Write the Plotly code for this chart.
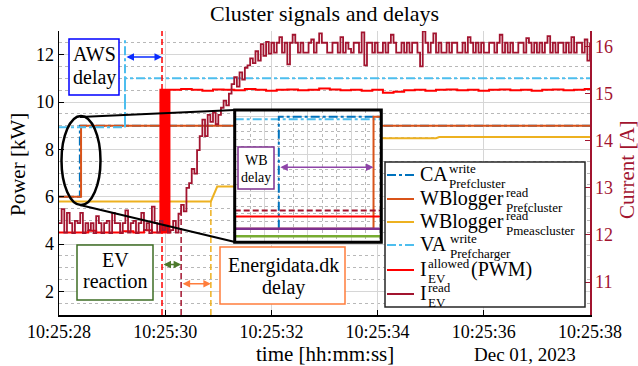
import plotly.graph_objects as go
import pandas as pd

FONT = "Liberation Serif"
BASE = pd.Timestamp("2023-12-01 10:25:28")

# ---------------- tick values ----------------
x_ticks_s = [0, 2, 4, 6, 8, 10]          # seconds after 10:25:28
power_range = [1, 13]
current_range = [10.30, 16.33]

# ---------------- main series (t in seconds after 10:25:28) ----------------
ca_t = [0.0, 0.3933, 0.3933, 10.0]
ca_kw = [6.0, 6.0, 9.0, 9.0]

wb_pref_t = [0.0, 0.4152, 0.4152, 10.0]
wb_pref_kw = [6.0, 6.0, 9.0, 9.0]

wb_pmeas_t = [0.0, 2.86, 2.98, 4.50, 4.50, 7.10, 7.16, 10.0]
wb_pmeas_kw = [5.80, 5.80, 6.43, 6.43, 8.47, 8.47, 8.52, 8.52]

va_t = [0.0, 1.243, 1.243, 10.0]
va_kw = [8.93, 8.93, 11.0, 11.0]

# event marker lines
aws_mark_t = [1.243, 1.243]
aws_mark_kw = [8.93, 12.7]
pwm_mark_t = [1.94, 1.94]
pwm_mark_kw = [1.0, 13.0]
ev_mark_t = [2.30, 2.30]
ev_mark_kw = [1.0, 5.6]
ed_mark_t = [2.86, 2.86]
ed_mark_kw = [1.0, 5.8]

# I_EV allowed (PWM) [A]
i_allowed_t = [0.00, 0.55, 0.70, 1.20, 1.40, 1.60, 1.75,
               1.91, 1.92, 1.93, 1.94, 1.95, 1.96, 1.97, 1.98, 1.99,
               2.01, 2.02, 2.03, 2.04, 2.05, 2.06, 2.07, 2.08, 2.09,
               2.3, 2.5, 2.7, 2.9, 3.1, 3.3, 3.5, 3.7, 3.9, 4.1,
               4.3, 4.5, 4.7, 4.9, 5.1, 5.3, 5.5, 5.7, 5.9, 6.1,
               6.3, 6.5, 6.7, 6.9, 7.1, 7.3, 7.5, 7.7, 7.9, 8.1,
               8.3, 8.5, 8.7, 8.9, 9.1, 9.3, 9.5, 9.7, 9.9, 10.0]
i_allowed_a = [12.05, 12.09, 12.05, 12.08, 12.05, 12.10, 12.05,
               15.08, 12.05, 15.08, 12.05, 15.08, 12.05, 15.08, 12.05, 15.08,
               12.05, 15.08, 12.05, 15.08, 12.05, 15.08, 12.05, 15.08, 15.08,
               15.10, 15.08, 15.06, 15.09, 15.08, 15.07, 15.10, 15.08, 15.06, 15.08,
               15.09, 15.07, 15.08, 15.11, 15.09, 15.07, 15.08, 15.06, 15.08, 15.02,
               15.04, 15.07, 15.08, 15.06, 15.08, 15.09, 15.07, 15.08, 15.06, 15.08,
               15.09, 15.07, 15.08, 15.06, 15.08, 15.09, 15.07, 15.08, 15.10, 15.12]

# I_EV read [A], sampled every 0.05 s from 10:25:28
i_read_dt = 0.05
i_read_a = [
    # 0.00 - 2.05 s
    12.25, 12.55, 12.05, 12.47, 12.25, 12.04, 12.30, 12.25, 12.47, 12.04,
    12.25, 12.10, 12.25, 12.04, 12.40, 12.25, 12.04, 12.25, 12.30, 12.04,
    12.47, 12.25, 12.25, 12.04, 12.25, 12.52, 12.05, 12.25, 12.30, 12.04,
    12.25, 12.47, 12.10, 12.25, 12.04, 12.60, 12.25, 12.05, 12.30, 12.10,
    12.20, 12.05,
    # 2.10 - 3.95 s
    12.10, 12.30, 12.05, 12.45, 12.64, 12.50, 13.00, 13.10, 13.40, 13.30,
    13.80, 14.10, 14.45, 14.10, 14.55, 14.40, 14.60, 14.35, 14.55, 14.70,
    14.85, 14.75, 15.00, 15.20, 15.35, 15.15, 15.45, 15.30, 15.55, 15.60,
    15.75, 15.65, 15.90, 15.70, 16.05, 15.80, 16.10, 15.85,
    # 4.00 - 10.00 s
    16.08, 15.87, 16.08, 16.20, 15.87, 16.08, 15.62, 16.08, 16.25, 16.08,
    15.87, 16.08, 15.87, 15.87, 16.08, 16.15, 15.87, 16.08, 16.28, 16.08,
    16.08, 15.87, 15.87, 16.08, 16.08, 15.87, 16.20, 15.87, 16.08, 15.95,
    15.87, 16.08, 16.08, 15.87, 16.30, 15.60, 16.08, 16.08, 15.87, 16.08,
    15.87, 15.87, 16.08, 15.87, 16.08, 16.25, 16.08, 15.87, 15.87, 16.08,
    15.87, 16.08, 15.87, 16.08, 16.08, 15.87, 15.58, 16.32, 16.08, 15.87,
    16.08, 16.28, 15.87, 16.08, 15.87, 15.87, 16.08, 15.87, 16.08, 16.08,
    15.87, 15.87, 16.08, 15.87, 16.20, 16.08, 15.87, 16.08, 15.87, 16.08,
    15.87, 15.87, 16.08, 16.08, 15.87, 16.08, 16.25, 15.87, 16.08, 15.87,
    16.08, 15.87, 15.87, 16.08, 16.08, 15.87, 16.18, 16.08, 15.87, 16.08,
    15.87, 16.08, 15.87, 16.08, 16.22, 15.87, 16.08, 15.87, 16.08, 16.08,
    15.87, 16.08, 15.87, 16.20, 15.87, 16.08, 16.08, 15.87, 16.15, 15.70,
    16.08,
]

# ---------------- inset (zoom of ellipse) ----------------
inset_x_range = [0.3831, 0.4170]
inset_y_range = [5.64, 9.18]
inset_va_t = [0.3831, 0.4170]
inset_va_kw = [8.93, 8.93]
inset_ca_t = [0.3933, 0.3933, 0.4170]
inset_ca_kw = [6.0, 9.0, 9.0]
inset_wb_t = [0.3831, 0.4152, 0.4152, 0.4170]
inset_wb_kw = [6.0, 6.0, 9.0, 9.0]
inset_read_t = [0.3831, 0.4170]
inset_read_kw = [6.49, 6.49]
inset_allowed_t = [0.3831, 0.4170]
inset_allowed_kw = [6.33, 6.33]
inset_purple_t = [0.3831, 0.4170]
inset_purple_kw = [6.0, 6.0]
inset_green_t = [0.3831, 0.4170]
inset_green_kw = [5.80, 5.80]

# delay arrows (time span, level)
aws_arrow = ([1.243, 1.94], 11.9)
ev_arrow = ([1.94, 2.30], 3.13)
ed_arrow = ([2.30, 2.86], 2.32)
wb_arrow = ([0.3933, 0.4152], 7.65)

# legend texts
legend_main = ["CA", "WBlogger", "WBlogger", "VA", "I", "I"]
legend_sup = ["write", "read", "read", "write", "allowed", "read"]
legend_sub = ["Prefcluster", "Prefcluster", "Pmeascluster", "Prefcharger", "EV", "EV"]
legend_tail = ["", "", "", "", "(PWM)", ""]

# ---------------- styles ----------------
C_BLUE = "#0072BD"
C_ORANGE = "#D95319"
C_YELLOW = "#EDB120"
C_LBLUE = "#4DBEEE"
C_RED = "#FF0000"
C_CRIMSON = "#A2142F"
C_PURPLE = "#7E2F8E"
C_GREEN = "#77AC30"
DASHDOT = "9px,3px,3px,3px"
DASH = "6px,3px"


def ts(secs):
    return [BASE + pd.Timedelta(seconds=s) for s in secs]


PL, PR, PT, PB = 59, 590, 31, 315


def px(x):
    return (x - PL) / (PR - PL)


def py(y):
    return (PB - y) / (PB - PT)


fig = go.Figure()


def add(x, y, color, width=2, dash=None, yaxis="y", xaxis="x", shape="linear"):
    fig.add_trace(go.Scatter(x=x, y=y, mode="lines", xaxis=xaxis, yaxis=yaxis,
                             line=dict(color=color, width=width, dash=dash, shape=shape),
                             showlegend=False, hoverinfo="skip"))


# main left-axis traces
add(ts(ca_t), ca_kw, C_BLUE, 2, DASHDOT)
add(ts(wb_pref_t), wb_pref_kw, C_ORANGE, 2)
add(ts(wb_pmeas_t), wb_pmeas_kw, C_YELLOW, 2)
add(ts(va_t), va_kw, C_LBLUE, 2, DASHDOT)
add(ts(aws_mark_t), aws_mark_kw, C_LBLUE, 2, DASHDOT)
add(ts(pwm_mark_t), pwm_mark_kw, C_RED, 1.5, DASH)
add(ts(ev_mark_t), ev_mark_kw, C_CRIMSON, 1.5, DASH)
add(ts(ed_mark_t), ed_mark_kw, C_YELLOW, 1.5, DASH)
# right-axis traces
add(ts(i_allowed_t), i_allowed_a, C_RED, 2, None, "y2", shape="hv")
i_read_t = [k * i_read_dt for k in range(len(i_read_a))]
add(ts(i_read_t), i_read_a, C_CRIMSON, 1.8, None, "y2", shape="hv")
# inset traces
add(inset_va_t, inset_va_kw, C_LBLUE, 2, DASHDOT, "y3", "x3")
add(inset_ca_t, inset_ca_kw, C_BLUE, 2, DASHDOT, "y3", "x3")
add(inset_wb_t, inset_wb_kw, C_ORANGE, 2, None, "y3", "x3")
add(inset_read_t, inset_read_kw, C_CRIMSON, 2, DASH, "y3", "x3")
add(inset_allowed_t, inset_allowed_kw, C_RED, 2, None, "y3", "x3")
add(inset_purple_t, inset_purple_kw, C_PURPLE, 2.5, None, "y3", "x3")
add(inset_green_t, inset_green_kw, C_GREEN, 2.5, None, "y3", "x3")

GRID = "#D6D6D6"
MINOR = "#B8B8B8"

shapes = []
annotations = []

# inset white background (drawn inside the inset subplot, above main traces)
shapes.append(dict(type="rect", xref="x3", yref="y3", layer="below",
                   x0=inset_x_range[0], x1=inset_x_range[1],
                   y0=inset_y_range[0], y1=inset_y_range[1],
                   fillcolor="white", line=dict(width=0)))


def box(x0, y0, x1, y1, color, width=1.5):
    shapes.append(dict(type="rect", xref="paper", yref="paper", layer="above",
                       x0=px(x0), x1=px(x1), y0=py(y1), y1=py(y0),
                       fillcolor="white", line=dict(color=color, width=width)))


def text(x, y, s, size, color="black", anchor="center", angle=0):
    annotations.append(dict(x=px(x), y=py(y), xref="paper", yref="paper", text=s,
                            showarrow=False, xanchor=anchor, yanchor="middle",
                            textangle=angle, borderpad=0,
                            font=dict(family=FONT, size=size, color=color)))


# legend
box(385, 162, 585, 307, "#262626", 1.5)
leg_y = [175, 199, 222, 245, 270, 294]
leg_colors = [C_BLUE, C_ORANGE, C_YELLOW, C_LBLUE, C_RED, C_CRIMSON]
leg_dash = [DASHDOT, None, None, DASHDOT, None, None]
leg_script_x = [448, 505, 505, 449, 427, 427]
for i, yy in enumerate(leg_y):
    shapes.append(dict(type="line", xref="paper", yref="paper", layer="above",
                       x0=px(387), x1=px(414), y0=py(yy), y1=py(yy),
                       line=dict(color=leg_colors[i], width=2, dash=leg_dash[i])))
    text(419, yy - 1, legend_main[i], 20, anchor="left")
    text(leg_script_x[i], yy - 7, legend_sup[i], 13, anchor="left")
    text(leg_script_x[i], yy + 8, legend_sub[i], 13, anchor="left")
    if legend_tail[i]:
        text(470, yy - 1, legend_tail[i], 20, anchor="left")

# delay text boxes
box(69, 39, 119, 95, "#0000FF")
text(94, 54, "AWS", 20)
text(94, 77, "delay", 20)
box(77, 245, 153, 300, "#3E6E24")
text(115, 260, "EV", 20)
text(115, 281, "reaction", 20)
box(220, 247, 345, 304, "#FF7D3C")
text(283, 265, "Energidata.dk", 20)
text(283, 287, "delay", 20)
box(238, 147, 274, 189, C_PURPLE)
text(256, 160, "WB", 14)
text(256, 177, "delay", 14)

# ellipse and zoom connector lines
shapes.append(dict(type="circle", xref="paper", yref="paper", layer="above",
                   x0=px(61.5), x1=px(100.5), y0=py(205), y1=py(116),
                   line=dict(color="black", width=2.5)))
shapes.append(dict(type="line", xref="paper", yref="paper", layer="above",
                   x0=px(80), y0=py(117), x1=px(235), y1=py(110),
                   line=dict(color="black", width=2)))
shapes.append(dict(type="line", xref="paper", yref="paper", layer="above",
                   x0=px(80), y0=py(205), x1=px(235), y1=py(242),
                   line=dict(color="black", width=2)))
# inset border
INSET_X = [px(234.7), px(381.3)]
INSET_Y = [py(242.3), py(110)]
shapes.append(dict(type="rect", xref="paper", yref="paper", layer="above",
                   x0=INSET_X[0], x1=INSET_X[1], y0=INSET_Y[0], y1=INSET_Y[1],
                   line=dict(color="black", width=3)))


def arrow(span, level, color, xref="x", yref="y", date=True):
    xs = ts(span) if date else span
    annotations.append(dict(x=xs[1], y=level, ax=xs[0], ay=level,
                            xref=xref, yref=yref, axref=xref, ayref=yref,
                            text="", showarrow=True, arrowhead=2, arrowside="end+start",
                            arrowsize=1, arrowwidth=1.5, arrowcolor=color))


arrow(*aws_arrow, "#0A2CFF")
arrow(*ev_arrow, "#4C7A2C")
arrow(*ed_arrow, "#FF7D3C")
arrow(*wb_arrow, "#8E44A8", "x3", "y3", False)

# titles
text(324, 13, "Cluster signals and delays", 22)
text(18, 165, "Power [kW]", 21, angle=-90)
text(627, 170, "Current [A]", 21, color=C_CRIMSON, angle=-90)
text(325, 354, "time [hh:mm:ss]", 21)
text(525, 354, "Dec 01, 2023", 19)

tickfont = dict(family=FONT, size=18, color="black")

fig.update_layout(
    width=638, height=366, autosize=False,
    margin=dict(l=PL, r=638 - PR, t=PT, b=366 - PB, pad=0),
    plot_bgcolor="white", paper_bgcolor="white",
    showlegend=False,
    xaxis=dict(type="date", range=ts([0, 10]), domain=[0, 1], anchor="y",
               tickmode="array", tickvals=ts(x_ticks_s), tickformat="%H:%M:%S",
               ticks="inside", ticklen=5, tickwidth=1, tickcolor="black",
               showline=True, linecolor="black", linewidth=1.5,
               showgrid=True, gridcolor=GRID, gridwidth=1, zeroline=False,
               tickfont=tickfont),
    yaxis=dict(range=power_range, tickmode="linear", tick0=2, dtick=2,
               ticks="inside", ticklen=5, tickcolor="black",
               showline=True, linecolor="black", linewidth=1.5,
               showgrid=True, gridcolor=GRID, gridwidth=1, zeroline=False,
               minor=dict(dtick=0.5, tick0=0, showgrid=True, griddash="dot",
                          gridcolor=MINOR, gridwidth=1, ticks=""),
               tickfont=tickfont),
    yaxis2=dict(range=current_range, overlaying="y", side="right", anchor="x",
                tickmode="linear", tick0=11, dtick=1,
                ticks="inside", ticklen=5, tickcolor=C_CRIMSON,
                showline=True, linecolor=C_CRIMSON, linewidth=1.5,
                showgrid=False, zeroline=False,
                tickfont=dict(family=FONT, size=18, color=C_CRIMSON)),
    xaxis3=dict(domain=INSET_X, anchor="y3", range=inset_x_range,
                tickmode="linear", tick0=0.39, dtick=0.01, showticklabels=False,
                ticks="", showline=False, zeroline=False,
                showgrid=True, gridcolor=GRID, gridwidth=1,
                minor=dict(dtick=0.01 / 3, showgrid=True, griddash="dot",
                           gridcolor=MINOR, gridwidth=1, ticks="")),
    yaxis3=dict(domain=INSET_Y, anchor="x3", range=inset_y_range,
                tickmode="linear", tick0=6, dtick=1, showticklabels=False,
                ticks="", showline=False, zeroline=False,
                showgrid=True, gridcolor=GRID, gridwidth=1,
                minor=dict(dtick=0.2, showgrid=True, griddash="dot",
                           gridcolor=MINOR, gridwidth=1, ticks="")),
    shapes=shapes,
    annotations=annotations,
)

fig.write_html("out.html",
               config={"displayModeBar": False, "staticPlot": True},
               post_script="document.body.style.margin='0';document.body.style.overflow='hidden';")
